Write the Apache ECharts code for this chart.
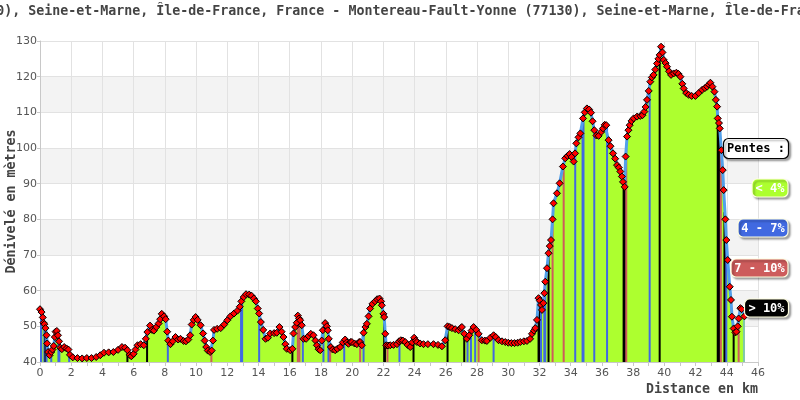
<!DOCTYPE html>
<html>
<head>
<meta charset="utf-8">
<script src="https://cdn.jsdelivr.net/npm/echarts@6/dist/echarts.min.js"></script>
<style>html,body{margin:0;padding:0;background:#fff}#c{width:800px;height:400px}</style>
</head>
<body>
<div id="c"></div>
<script>
const titleText = "Montereau-Fault-Yonne (77130), Seine-et-Marne, Île-de-France, France - Montereau-Fault-Yonne (77130), Seine-et-Marne, Île-de-France, France";
const yAxisName = "Dénivelé en mètres";
const xAxisName = "Distance en km";
const legendTitle = "Pentes :";
const slopeClasses = ["< 4%", "4 - 7%", "7 - 10%", "> 10%", ""];
const slopeColors = ["#adff2f", "#4169e1", "#cd5c5c", "#000000", "#7fc8a9"];

const profileKm = [0.00,0.10,0.18,0.22,0.28,0.35,0.42,0.46,0.52,0.62,0.72,0.80,0.88,0.95,1.00,1.08,1.15,1.22,1.30,1.40,1.55,1.70,1.82,1.92,2.10,2.40,2.70,3.00,3.30,3.60,3.86,4.10,4.40,4.70,5.00,5.25,5.45,5.60,5.75,5.85,6.00,6.12,6.25,6.45,6.65,6.78,6.88,7.05,7.18,7.30,7.45,7.60,7.70,7.80,7.95,8.05,8.15,8.22,8.36,8.50,8.68,8.85,9.00,9.20,9.35,9.50,9.62,9.72,9.85,9.97,10.10,10.29,10.45,10.55,10.65,10.75,10.90,11.00,11.08,11.15,11.35,11.58,11.80,12.00,12.20,12.43,12.65,12.80,12.90,13.05,13.20,13.40,13.55,13.70,13.83,13.95,14.04,14.15,14.30,14.45,14.60,14.75,15.00,15.17,15.34,15.48,15.60,15.72,15.81,16.03,16.17,16.24,16.35,16.45,16.52,16.60,16.67,16.77,16.88,17.05,17.20,17.35,17.52,17.65,17.74,17.85,17.95,18.05,18.12,18.27,18.38,18.44,18.50,18.63,18.75,18.91,19.05,19.23,19.40,19.55,19.66,19.76,19.90,19.98,20.15,20.30,20.45,20.51,20.62,20.73,20.85,20.94,21.05,21.15,21.30,21.47,21.60,21.75,21.85,21.90,22.00,22.05,22.12,22.18,22.30,22.44,22.65,22.87,23.00,23.12,23.25,23.40,23.55,23.72,23.85,23.97,24.08,24.15,24.35,24.57,24.85,25.21,25.50,25.75,25.96,26.11,26.25,26.39,26.60,26.82,26.95,27.03,27.18,27.35,27.50,27.65,27.78,27.95,28.10,28.31,28.50,28.63,28.85,29.06,29.20,29.38,29.60,29.81,30.00,30.20,30.40,30.60,30.77,31.00,31.20,31.40,31.52,31.65,31.73,31.84,31.94,32.02,32.10,32.16,32.25,32.31,32.37,32.48,32.58,32.66,32.74,32.84,32.90,33.12,33.29,33.50,33.65,33.80,33.93,34.05,34.19,34.28,34.36,34.50,34.62,34.79,34.90,35.04,35.18,35.30,35.40,35.51,35.65,35.79,35.95,36.07,36.18,36.28,36.43,36.55,36.71,36.85,36.97,37.08,37.18,37.28,37.35,37.46,37.52,37.61,37.70,37.78,37.90,38.03,38.25,38.46,38.60,38.72,38.80,38.89,39.00,39.10,39.20,39.31,39.42,39.53,39.62,39.70,39.79,39.88,39.96,40.08,40.17,40.30,40.43,40.60,40.77,40.90,41.03,41.15,41.24,41.40,41.56,41.75,41.99,42.20,42.42,42.60,42.74,42.85,42.95,43.08,43.21,43.30,43.38,43.42,43.50,43.55,43.65,43.74,43.80,43.91,43.97,44.06,44.19,44.27,44.33,44.44,44.55,44.62,44.70,44.76,44.87,44.95,45.13];
const profileElev = [54.8,54.0,52.5,51.0,50.6,49.5,47.5,45.2,42.8,41.9,42.8,43.5,44.5,47.0,48.5,48.7,47.5,45.8,44.0,43.6,44.2,43.8,43.5,42.0,41.3,41.1,41.0,41.1,41.1,41.4,41.9,42.6,42.7,42.8,43.4,44.2,44.0,43.3,42.0,41.6,42.3,43.5,44.7,45.0,44.7,46.5,48.4,50.2,49.0,48.8,49.8,50.8,52.0,53.5,52.8,52.0,48.5,46.0,45.0,45.8,47.0,46.3,46.5,45.9,45.8,46.3,47.5,50.5,51.8,52.6,51.8,50.3,48.0,46.0,44.2,43.2,42.8,43.2,46.0,49.0,49.3,49.5,50.5,51.7,52.8,53.6,54.4,55.5,57.0,58.2,59.0,58.9,58.6,57.8,57.0,55.0,53.6,51.2,49.0,46.5,46.8,48.0,48.1,48.2,49.8,48.5,47.0,45.0,43.7,43.3,43.7,48.0,49.8,51.0,53.0,52.2,51.7,50.3,46.5,46.5,47.3,47.9,47.5,46.0,44.7,43.6,43.3,46.0,48.9,50.9,50.0,48.9,46.5,44.2,43.5,43.3,43.7,44.2,45.5,46.3,45.5,45.1,45.6,45.6,45.2,45.0,45.6,45.6,44.7,48.2,49.8,50.7,52.8,55.0,56.3,57.0,57.6,57.8,57.0,55.9,53.5,52.6,47.9,44.7,44.6,44.7,44.8,45.0,45.8,46.1,46.0,45.6,44.8,44.2,45.5,46.8,46.0,45.6,45.2,45.0,45.0,45.0,44.8,44.4,46.1,50.0,49.8,49.5,49.2,48.9,49.5,49.8,47.9,46.5,47.5,48.8,49.8,49.0,47.9,46.1,46.0,45.9,46.8,47.5,47.0,46.1,45.8,45.6,45.4,45.3,45.3,45.4,45.6,45.8,45.9,46.5,47.9,48.8,49.5,51.8,57.9,57.2,56.0,54.6,56.5,59.3,62.5,66.3,70.5,72.5,74.2,80.0,84.5,87.3,90.1,94.8,97.1,97.8,98.3,97.5,96.2,98.5,101.3,103.0,104.1,108.3,110.0,111.1,110.8,109.9,107.5,105.0,103.5,103.4,104.5,105.5,106.5,106.4,102.2,100.5,98.5,97.0,95.2,94.5,93.4,92.0,90.5,89.1,97.6,103.2,105.0,106.4,107.6,108.3,108.8,109.0,109.2,110.2,111.5,113.5,116.0,118.6,119.8,120.5,122.0,123.7,125.0,126.1,128.4,126.8,124.7,123.8,122.8,121.5,120.5,120.9,121.1,120.8,120.0,118.0,116.7,115.4,114.9,114.6,114.6,115.4,116.3,116.8,117.2,117.8,118.3,117.2,115.8,113.5,111.6,108.3,107.0,105.5,99.4,93.8,88.2,80.0,74.2,68.6,61.1,57.4,52.7,49.4,48.3,48.5,50.0,52.2,55.1,54.8,52.8];

// coloured slope strips: distance, elevation at top, slope class index
const stripKm = [0.03,0.08,0.28,0.35,0.42,0.72,1.18,1.24,1.87,5.60,6.86,8.19,10.98,12.88,12.95,14.04,16.17,16.52,16.62,16.84,18.16,18.48,18.53,18.59,19.49,20.51,20.73,22.05,22.10,22.26,23.03,23.93,26.11,27.18,27.39,27.61,27.88,28.10,29.06,31.94,31.99,32.10,32.31,32.37,32.58,32.84,33.55,34.29,34.76,34.82,35.51,36.33,37.39,37.45,37.51,37.56,39.06,39.70,43.42,43.48,43.54,43.62,43.85,43.91,43.97,44.44,44.76,45.10];
const stripElev = [54.5,54.0,50.6,49.5,47.5,42.8,46.5,45.5,43.0,43.3,48.0,47.0,43.0,56.0,57.5,53.6,43.7,53.0,52.0,48.0,49.0,47.5,46.0,44.5,45.8,45.6,48.0,52.6,50.0,44.6,45.8,46.5,50.0,47.9,46.7,48.3,49.5,47.9,47.5,57.9,57.5,56.0,59.3,62.5,70.5,80.0,95.5,98.5,108.0,109.0,105.0,106.0,89.5,89.2,94.0,100.0,116.0,126.0,108.0,107.0,105.5,100.0,82.0,80.0,74.0,49.4,52.2,52.7];
const stripClass = [1,1,1,3,1,1,1,1,1,3,3,1,2,1,1,1,3,2,2,1,1,1,1,2,1,2,1,3,3,2,1,3,3,3,1,1,1,2,1,3,3,1,1,1,3,2,2,1,1,1,1,1,3,3,3,2,1,3,3,3,3,2,3,3,1,3,2,4];

const profile = profileKm.map((k, i) => [k, profileElev[i]]);
const strips = stripKm.map((k, i) => [k, stripElev[i], stripClass[i]]);

const chart = echarts.init(document.getElementById('c'), null, {renderer: 'canvas'});
const mono = '"DejaVu Sans Mono", monospace';

function legendBox(x, y, w, h, fill, stroke, text, textColor) {
  return [
    {type: 'rect', z: 100, shape: {x: x, y: y, width: w, height: h, r: 5},
     style: {fill: fill, stroke: stroke, lineWidth: 1.2, shadowColor: 'rgba(0,0,0,0.35)', shadowBlur: 2, shadowOffsetX: 2, shadowOffsetY: 2}},
    {type: 'text', z: 101, x: x + w / 2, y: y + h / 2 + 0.5,
     style: {text: text, fill: textColor, font: 'bold 12px ' + mono, align: 'center', verticalAlign: 'middle'}}
  ];
}

const option = {
  animation: false,
  backgroundColor: '#ffffff',
  grid: {left: 40, right: 42, top: 41, bottom: 38, containLabel: false, outerBoundsMode: 'none'},
  xAxis: {
    type: 'value', min: 0, max: 46, interval: 2,
    name: xAxisName, nameLocation: 'end', nameGap: 0, nameMoveOverlap: false,
    nameTextStyle: {fontFamily: 'DejaVu Sans Mono', fontWeight: 'bold', fontSize: 13.3, color: '#444', align: 'right', verticalAlign: 'top', padding: [21, 0, 0, 0]},
    axisLine: {show: true, lineStyle: {color: '#c8c8c8'}},
    axisTick: {show: true, length: 4, lineStyle: {color: '#c8c8c8'}},
    minorTick: {show: true, splitNumber: 2, length: 4, lineStyle: {color: '#c8c8c8'}},
    axisLabel: {color: '#555', fontFamily: 'DejaVu Sans', fontSize: 11, margin: 6},
    splitLine: {show: true, lineStyle: {color: '#e2e2e2'}}
  },
  yAxis: {
    type: 'value', min: 40, max: 130, interval: 10,
    name: yAxisName, nameLocation: 'middle', nameGap: 22, nameRotate: 90, nameMoveOverlap: false,
    nameTextStyle: {fontFamily: 'DejaVu Sans Mono', fontWeight: 'bold', fontSize: 13.3, color: '#444'},
    axisLine: {show: true, lineStyle: {color: '#c8c8c8'}},
    axisTick: {show: true, length: 3, lineStyle: {color: '#c8c8c8'}},
    axisLabel: {color: '#555', fontFamily: 'DejaVu Sans', fontSize: 11, margin: 3},
    splitLine: {show: true, lineStyle: {color: '#e2e2e2'}},
    splitArea: {show: true, areaStyle: {color: ['#ffffff', '#f3f3f3']}}
  },
  graphic: [
    {type: 'text', x: -220, y: 12, z: 100,
     style: {text: titleText, fill: '#444', font: 'bold 13.3px ' + mono, align: 'left', verticalAlign: 'middle'}}
  ].concat(
    legendBox(723.5, 138.5, 65, 20, '#ffffff', '#000000', legendTitle, '#000000'),
    legendBox(752, 179, 36, 18, slopeColors[0], '#ffffe0', slopeClasses[0], '#ffffff'),
    legendBox(738, 219, 50, 18, slopeColors[1], '#ffffe0', slopeClasses[1], '#ffffff'),
    legendBox(731, 259, 57, 18, slopeColors[2], '#ffffe0', slopeClasses[2], '#ffffff'),
    legendBox(744.5, 299, 44, 18, slopeColors[3], '#ffffe0', slopeClasses[3], '#ffffff')
  ),
  series: [
    {
      type: 'line', data: profile, z: 1, showSymbol: false, symbol: 'none',
      lineStyle: {width: 0, opacity: 0},
      areaStyle: {color: slopeColors[0], opacity: 1, origin: 'start'}
    },
    {
      type: 'custom', data: strips, z: 2, clip: true,
      renderItem: function (params, api) {
        const top = api.coord([api.value(0), api.value(1)]);
        const bot = api.coord([api.value(0), 40]);
        return {type: 'rect', shape: {x: top[0] - 1, y: top[1], width: 2, height: bot[1] - top[1]},
                style: {fill: slopeColors[api.value(2)]}};
      }
    },
    {
      type: 'line', data: profile, z: 3,
      symbol: 'diamond', symbolSize: 7, showSymbol: true,
      lineStyle: {color: '#52a0ea', width: 3},
      itemStyle: {color: '#ff0000', borderColor: '#000000', borderWidth: 1}
    }
  ]
};
chart.setOption(option);
</script>
</body>
</html>
